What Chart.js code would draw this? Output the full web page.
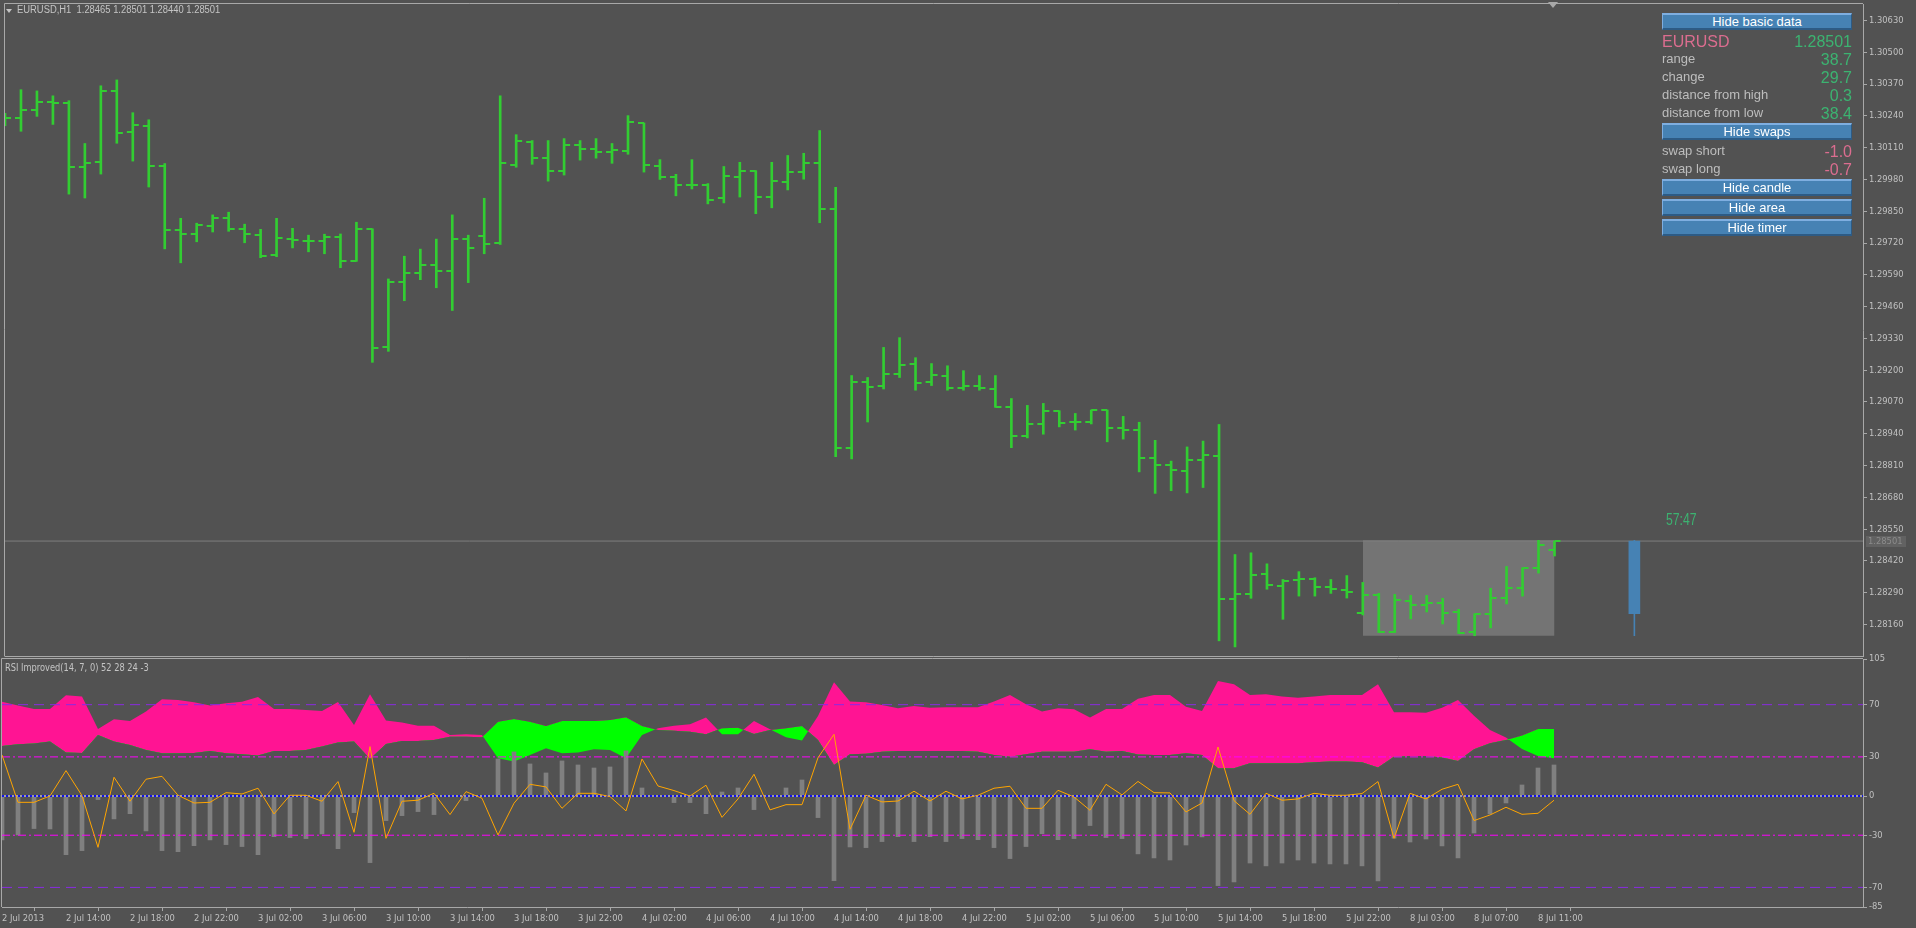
<!DOCTYPE html>
<html>
<head>
<meta charset="utf-8">
<script src="https://cdn.jsdelivr.net/npm/chart.js@4.4.0/dist/chart.umd.min.js"></script>
<style>
html, body { margin:0; padding:0; background:#525252; width:1916px; height:928px; overflow:hidden; }
canvas { position:absolute; left:0; }
#main { top:-12px; }
#rsi { top:640px; }
.txt { position:absolute; font-family:'Liberation Sans', Arial, sans-serif; white-space:nowrap; }
#hdr { left:17px; top:4px; font-size:10px; color:#c4c4c4; transform:scaleX(0.94); transform-origin:0 0; }
#hdrTri { position:absolute; left:6px; top:9px; width:0; height:0; border-left:3.5px solid transparent; border-right:3.5px solid transparent; border-top:4px solid #c4c4c4; }
#shiftTri { position:absolute; left:1548px; top:2px; width:0; height:0; border-left:5px solid transparent; border-right:5px solid transparent; border-top:6px solid #a8a8a8; }
#rsiLbl { left:5px; top:662px; font-family:'DejaVu Sans Condensed', sans-serif; font-size:10px; color:#c4c4c4; transform:scaleX(0.92); transform-origin:0 0; }
.btn { position:absolute; left:1662px; width:190px; height:17px; box-sizing:border-box; background:#4682b4;
  border-top:2px solid #7eaee0; border-left:1px solid #7eaee0; border-bottom:2px solid #2d5b85; border-right:1px solid #2d5b85;
  color:#fff; font:13px 'Liberation Sans', Arial, sans-serif; text-align:center; line-height:13px; }
.row { position:absolute; left:1662px; width:190px; height:18px; line-height:18px; }
.row .l { position:absolute; left:0; font:13px 'Liberation Sans', Arial, sans-serif; color:#bdbdbd; }
.row .r { position:absolute; right:0; font:16px 'Liberation Sans', Arial, sans-serif; }
#timer { left:1666px; top:510px; font-family:'Liberation Sans', sans-serif; font-size:17px; color:#3cb371; transform:scaleX(0.72); transform-origin:0 0; }
</style>
</head>
<body>
<canvas id="main" width="1916" height="680" style="width:1916px;height:680px"></canvas>
<canvas id="rsi" width="1916" height="288" style="width:1916px;height:288px"></canvas>
<div id="hdrTri"></div>
<div id="hdr" class="txt"></div>
<div id="shiftTri"></div>
<div id="rsiLbl" class="txt">RSI Improved(14, 7, 0) 52 28 24 -3</div>
<div id="timer" class="txt">57:47</div>
<div id="panel"></div>
<script>
// EURUSD H1, bar 0 = 2 Jul 10:00 ... bar 97 = 8 Jul 12:00
const opens = [
  1.30230, 1.30230, 1.30262, 1.30295, 1.30291, 1.30030, 1.30051, 1.30340, 1.30173, 1.30197,
  1.30034, 1.29774, 1.29757, 1.29790, 1.29823, 1.29778, 1.29753, 1.29672, 1.29736, 1.29730,
  1.29729, 1.29745, 1.29647, 1.29778, 1.29294, 1.29562, 1.29598, 1.29631, 1.29607, 1.29737,
  1.29749, 1.29721, 1.30038, 1.30133, 1.30067, 1.30014, 1.30120, 1.30103, 1.30091, 1.30095,
  1.30211, 1.30037, 1.29990, 1.29957, 1.29957, 1.29903, 1.29990, 1.30014, 1.29908, 1.29970,
  1.30010, 1.30047, 1.29858, 1.28881, 1.29151, 1.29134, 1.29184, 1.29224, 1.29151, 1.29176,
  1.29127, 1.29137, 1.29123, 1.29048, 1.28931, 1.28980, 1.29034, 1.28988, 1.28988, 1.29037,
  1.28964, 1.28957, 1.28841, 1.28813, 1.28788, 1.28834, 1.28850, 1.28263, 1.28283, 1.28366,
  1.28316, 1.28340, 1.28344, 1.28313, 1.28302, 1.28207, 1.28280, 1.28130, 1.28256, 1.28240,
  1.28248, 1.28211, 1.28130, 1.28203, 1.28268, 1.28309, 1.28390, 1.28465
];
const highs = [
  1.30250, 1.30347, 1.30342, 1.30322, 1.30302, 1.30127, 1.30363, 1.30387, 1.30253, 1.30224,
  1.30045, 1.29821, 1.29801, 1.29835, 1.29846, 1.29797, 1.29776, 1.29821, 1.29780, 1.29752,
  1.29756, 1.29757, 1.29805, 1.29778, 1.29573, 1.29666, 1.29695, 1.29736, 1.29835, 1.29752,
  1.29903, 1.30322, 1.30163, 1.30139, 1.30139, 1.30147, 1.30139, 1.30147, 1.30127, 1.30241,
  1.30211, 1.30061, 1.30001, 1.30061, 1.29963, 1.30033, 1.30050, 1.30016, 1.30050, 1.30078,
  1.30087, 1.30180, 1.29948, 1.29178, 1.29170, 1.29293, 1.29333, 1.29251, 1.29227, 1.29218,
  1.29198, 1.29178, 1.29178, 1.29084, 1.29056, 1.29064, 1.29034, 1.29023, 1.29037, 1.29037,
  1.29011, 1.28987, 1.28913, 1.28828, 1.28886, 1.28910, 1.28978, 1.28446, 1.28453, 1.28408,
  1.28344, 1.28376, 1.28351, 1.28344, 1.28360, 1.28332, 1.28287, 1.28283, 1.28279, 1.28279,
  1.28267, 1.28222, 1.28204, 1.28308, 1.28397, 1.28392, 1.28504, 1.28501
];
const lows = [
  1.30200, 1.30177, 1.30238, 1.30205, 1.29920, 1.29904, 1.30002, 1.30128, 1.30055, 1.29949,
  1.29696, 1.29639, 1.29725, 1.29765, 1.29768, 1.29721, 1.29660, 1.29664, 1.29700, 1.29684,
  1.29676, 1.29619, 1.29645, 1.29232, 1.29277, 1.29484, 1.29570, 1.29537, 1.29444, 1.29558,
  1.29676, 1.29714, 1.30030, 1.30042, 1.29973, 1.29998, 1.30059, 1.30067, 1.30046, 1.30083,
  1.30010, 1.29980, 1.29913, 1.29941, 1.29880, 1.29884, 1.29908, 1.29840, 1.29864, 1.29937,
  1.29981, 1.29803, 1.28846, 1.28837, 1.28988, 1.29123, 1.29170, 1.29118, 1.29137, 1.29118,
  1.29118, 1.29118, 1.29048, 1.28883, 1.28923, 1.28938, 1.28968, 1.28955, 1.28980, 1.28907,
  1.28918, 1.28784, 1.28696, 1.28707, 1.28698, 1.28720, 1.28093, 1.28068, 1.28267, 1.28304,
  1.28181, 1.28276, 1.28276, 1.28287, 1.28268, 1.28199, 1.28127, 1.28127, 1.28183, 1.28211,
  1.28162, 1.28123, 1.28114, 1.28146, 1.28244, 1.28276, 1.28370, 1.28440
];
const closes = [
  1.30230, 1.30262, 1.30295, 1.30291, 1.30030, 1.30046, 1.30340, 1.30170, 1.30201, 1.30034,
  1.29774, 1.29757, 1.29795, 1.29823, 1.29776, 1.29755, 1.29666, 1.29741, 1.29733, 1.29729,
  1.29745, 1.29647, 1.29778, 1.29289, 1.29562, 1.29598, 1.29631, 1.29607, 1.29737, 1.29700,
  1.29717, 1.30046, 1.30136, 1.30067, 1.30014, 1.30120, 1.30103, 1.30091, 1.30099, 1.30215,
  1.30038, 1.29990, 1.29957, 1.29957, 1.29896, 1.29994, 1.30014, 1.29908, 1.29974, 1.30010,
  1.30047, 1.29858, 1.28881, 1.29151, 1.29130, 1.29184, 1.29220, 1.29147, 1.29180, 1.29127,
  1.29137, 1.29127, 1.29048, 1.28931, 1.28980, 1.29034, 1.28984, 1.28988, 1.29037, 1.28964,
  1.28957, 1.28841, 1.28813, 1.28793, 1.28834, 1.28854, 1.28263, 1.28283, 1.28361, 1.28320,
  1.28337, 1.28344, 1.28313, 1.28304, 1.28293, 1.28280, 1.28130, 1.28260, 1.28240, 1.28248,
  1.28207, 1.28126, 1.28203, 1.28268, 1.28309, 1.28390, 1.28484, 1.28501
];

// RSI Improved: two band edges (pink when bandA > bandB, green otherwise), histogram, signal line
const bandA = [
  72.3, 69.3, 66.7, 66.7, 77.2, 76.2, 51.4, 58.8, 57.5, 64.7,
  74.1, 73.6, 71.8, 69.3, 71.1, 72.3, 75.9, 66.7, 66.7, 66.0,
  65.2, 72.1, 54.5, 78.0, 57.8, 56.3, 53.9, 53.9, 46.8, 47.3,
  46.8, 28.9, 26.4, 31.5, 36.6, 32.8, 33.3, 35.8, 35.3, 28.9,
  46.8, 51.9, 53.9, 55.0, 60.1, 47.3, 47.3, 57.5, 51.2, 45.0,
  42.5, 61.4, 87.2, 72.4, 71.8, 69.8, 67.2, 69.0, 67.7, 68.0,
  68.0, 68.0, 72.4, 77.5, 70.3, 64.7, 67.2, 66.5, 60.1, 66.7,
  66.7, 74.6, 77.5, 77.5, 68.5, 65.2, 88.2, 85.6, 77.5, 78.0,
  76.2, 75.4, 76.2, 77.5, 77.5, 77.5, 85.6, 64.2, 64.2, 63.9,
  67.7, 73.6, 61.6, 50.6, 44.8, 36.1, 30.7, 28.9
];
const bandB = [
  38.4, 39.7, 40.2, 41.7, 33.3, 33.0, 46.8, 41.7, 39.2, 35.3,
  32.8, 32.8, 33.0, 34.6, 32.8, 32.0, 31.0, 34.6, 34.6, 35.3,
  37.9, 41.0, 41.7, 28.4, 39.9, 42.2, 42.2, 43.0, 45.5, 45.5,
  45.0, 57.0, 59.1, 57.0, 53.7, 57.5, 57.5, 57.5, 58.3, 60.4,
  53.7, 50.6, 50.1, 49.2, 47.3, 51.9, 52.4, 47.6, 50.6, 51.9,
  53.7, 43.0, 23.8, 32.0, 32.5, 34.0, 34.5, 34.5, 34.5, 34.5,
  34.5, 34.0, 31.5, 30.2, 32.0, 34.0, 34.0, 34.0, 35.8, 34.0,
  34.5, 31.8, 31.5, 31.5, 32.8, 31.5, 21.3, 21.3, 25.1, 25.1,
  25.1, 25.1, 25.9, 26.4, 26.4, 25.9, 21.8, 30.2, 30.7, 30.7,
  29.5, 26.9, 35.8, 40.4, 43.0, 46.3, 51.4, 51.4
];
const hist = [
  -33.6, -29.8, -24.9, -25.2, -44.9, -41.8, -2.7, -17.5, -13.5, -26.7,
  -41.8, -42.6, -38.0, -33.6, -37.2, -38.7, -44.9, -31.1, -31.8, -32.6,
  -29.0, -40.3, -12.7, -51.0, -18.8, -15.0, -11.9, -14.2, -0.5, -3.5,
  0, 28.4, 33.8, 24.6, 17.7, 26.9, 23.8, 21.5, 22.3, 34.6,
  6.2, 0, -5.0, -5.0, -13.5, 3.1, 6.2, -10.4, 0, 6.2,
  12.3, -16.5, -64.8, -39.0, -39.5, -34.9, -31.1, -34.9, -31.1, -34.9,
  -32.6, -33.4, -39.5, -47.9, -38.7, -28.8, -33.4, -32.6, -22.6, -31.8,
  -32.6, -44.3, -47.4, -49.0, -37.5, -31.3, -68.6, -65.8, -51.3, -53.5,
  -51.3, -49.0, -51.3, -52.0, -52.0, -53.5, -65.0, -32.3, -35.2, -32.9,
  -38.2, -47.4, -28.3, -13.7, -5.3, 8.5, 21.5, 23.8
];
const signal = [
  31.5, -4.8, -4.8, 0.1, 19.5, 0.3, -39.3, 14.4, -4.0, 12.9,
  15.1, 0.6, -5.3, -4.8, 2.6, 1.6, 6.0, -13.7, 0.6, 0.6,
  -4.0, 11.1, -27.8, 37.9, -32.4, -4.0, -3.2, 2.1, -14.2, 3.4,
  -1.7, -29.8, -5.5, 9.0, 7.0, -9.4, 2.1, 2.1, -0.4, -11.4,
  28.4, 7.7, 4.2, 0.0, 8.3, -16.3, -2.2, 16.7, -10.6, -6.6,
  -6.6, 29.4, 47.3, -25.5, 0.6, -4.5, -3.8, 3.7, -3.8, 3.7,
  -2.2, 0.6, 6.0, 7.5, -9.4, -9.4, 4.4, -0.7, -10.9, 9.0,
  0.9, 11.2, 2.6, 2.4, -12.2, -5.3, 37.6, -3.5, -14.0, 2.1,
  -3.2, -2.2, 2.1, 0.6, 0.6, 1.9, 11.1, -32.4, 2.1, -2.2,
  5.2, 9.0, -18.8, -14.5, -8.6, -14.0, -13.2, -3.2
];

const priceTicks = [1.30630, 1.30500, 1.30370, 1.30240, 1.30110, 1.29980, 1.29850, 1.29720, 1.29590, 1.29460,
  1.29330, 1.29200, 1.29070, 1.28940, 1.28810, 1.28680, 1.28550, 1.28420, 1.28290, 1.28160];
const rsiTicks = [105, 70, 30, 0, -30, -70, -85];
const tickIdx = [0, 4, 8, 12, 16, 20, 24, 28, 32, 36, 40, 44, 48, 52, 56, 60, 64, 68, 72, 76, 80, 84, 88, 92, 96];
const tickLabels = ['2 Jul 2013', '2 Jul 14:00', '2 Jul 18:00', '2 Jul 22:00', '3 Jul 02:00', '3 Jul 06:00', '3 Jul 10:00',
  '3 Jul 14:00', '3 Jul 18:00', '3 Jul 22:00', '4 Jul 02:00', '4 Jul 06:00', '4 Jul 10:00', '4 Jul 14:00', '4 Jul 18:00',
  '4 Jul 22:00', '5 Jul 02:00', '5 Jul 06:00', '5 Jul 10:00', '5 Jul 14:00', '5 Jul 18:00', '5 Jul 22:00',
  '8 Jul 03:00', '8 Jul 07:00', '8 Jul 11:00'];

// daily candle (open, high, low, close), drawn ahead of the last bar, and the day's range box
const dayOHLC = [1.28204, 1.28504, 1.28114, 1.28501];
const candleAt = 102;
const dayRange = [85, 97];

const panelLabels = ['range', 'change', 'distance from high', 'distance from low'];
const panelValues = ['38.7', '29.7', '0.3', '38.4'];
const swapLabels = ['swap short', 'swap long'];
const swapValues = ['-1.0', '-0.7'];

const xMin = 0, xMax = 116.3125;
const yMin = 1.28031, yMax = 1.306975;
const BAR = '#32cd32';
const AXIS = '#a8a8a8';
const NARROW = "'DejaVu Sans Condensed', 'Liberation Sans Narrow', sans-serif";

Chart.defaults.font.family = NARROW;
Chart.defaults.font.size = 9.3;
Chart.defaults.color = '#c0c0c0';

function pts(arr) {
  return arr.map((v, i) => ({x: i, y: v}));
}

function flat(v) {
  return [{x: xMin, y: v}, {x: xMax, y: v}];
}

// open / close ticks as point images
function tickImg(side) {
  const c = document.createElement('canvas');
  c.width = 14; c.height = 2;
  const g = c.getContext('2d');
  g.fillStyle = BAR;
  g.fillRect(side == 'left' ? 1 : 7, 0, 6, 2);
  return c;
}

const frame = {
  id: 'frame',
  afterDraw(chart, args, opts) {
    const a = chart.chartArea, ctx = chart.ctx;
    ctx.save();
    ctx.strokeStyle = AXIS;
    ctx.lineWidth = 1;
    ctx.beginPath();
    ctx.moveTo(a.left - 0.5, a.bottom);
    ctx.lineTo(a.left - 0.5, a.top - 0.5);
    ctx.lineTo(a.right, a.top - 0.5);
    if (opts.bottom) {
      ctx.moveTo(a.left - 0.5, a.bottom + 0.5);
      ctx.lineTo(a.right, a.bottom + 0.5);
    }
    ctx.stroke();
    ctx.restore();
  }
};

const priceTag = {
  id: 'priceTag',
  afterDraw(chart) {
    const last = closes[closes.length - 1];
    const y = Math.round(chart.scales.y.getPixelForValue(last));
    const ctx = chart.ctx;
    ctx.save();
    ctx.fillStyle = '#626262';
    ctx.fillRect(chart.chartArea.right + 3, y - 5, 40, 11);
    ctx.fillStyle = '#8c8c8c';
    ctx.font = '9.3px ' + NARROW;
    ctx.textBaseline = 'middle';
    ctx.fillText(last.toFixed(5), chart.chartArea.right + 5, y + 0.5);
    ctx.restore();
  }
};

const last = closes[closes.length - 1];

new Chart(document.getElementById('main'), {
  type: 'line',
  data: {
    datasets: [
      { label: 'day range', data: [{x: dayRange[0], y: dayOHLC[1]}, {x: dayRange[1], y: dayOHLC[1]}],
        fill: {value: dayOHLC[2]}, backgroundColor: '#747474', borderColor: 'rgba(0,0,0,0)', pointRadius: 0, order: 20 },
      { label: 'price', data: flat(last), borderColor: '#7e7e7e', borderWidth: 1, pointRadius: 0, fill: false, order: 19 },
      { type: 'bar', label: 'hl', data: highs.map((h, i) => ({x: i, y: [lows[i], h]})),
        backgroundColor: BAR, barThickness: 2, grouped: false, order: 3 },
      { type: 'scatter', label: 'open', data: pts(opens), pointStyle: tickImg('left'), pointRadius: 3, order: 2 },
      { type: 'scatter', label: 'close', data: pts(closes), pointStyle: tickImg('right'), pointRadius: 3, order: 1 },
      { type: 'bar', label: 'wick', data: [{x: candleAt, y: [dayOHLC[2], dayOHLC[1]]}],
        backgroundColor: '#4682b4', barThickness: 1, grouped: false, order: 5 },
      { type: 'bar', label: 'body', data: [{x: candleAt, y: [dayOHLC[0], dayOHLC[3]]}],
        backgroundColor: '#4682b4', barThickness: 11, grouped: false, order: 4 }
    ]
  },
  options: {
    responsive: false, animation: false, devicePixelRatio: 1, events: [],
    layout: {padding: {left: 2, right: 0, top: 16, bottom: 12}},
    plugins: {legend: {display: false}, tooltip: {enabled: false}, frame: {bottom: true}},
    scales: {
      x: {type: 'linear', min: xMin, max: xMax, display: false, offset: false},
      y: {
        position: 'right', min: yMin, max: yMax,
        afterBuildTicks: s => { s.ticks = priceTicks.map(v => ({value: v})); },
        afterFit: s => { s.width = 53; },
        grid: {drawOnChartArea: false, tickLength: 4, color: AXIS},
        border: {color: AXIS},
        ticks: {padding: 2, autoSkip: false, callback: v => v.toFixed(5)}
      }
    }
  },
  plugins: [frame, priceTag]
});

new Chart(document.getElementById('rsi'), {
  type: 'line',
  data: {
    datasets: [
      { label: 'bandA', data: pts(bandA), borderColor: 'rgba(0,0,0,0)', pointRadius: 0,
        fill: {target: '+1', above: '#ff1493', below: '#00ff00'}, order: 10 },
      { label: 'bandB', data: pts(bandB), borderColor: 'rgba(0,0,0,0)', pointRadius: 0, fill: false, order: 10 },
      { type: 'bar', label: 'hist', data: pts(hist), backgroundColor: '#808080', barThickness: 4, grouped: false, order: 8 },
      { label: 'l70', data: flat(70), borderColor: '#8a2be2', borderWidth: 1, borderDash: [10, 6], pointRadius: 0, order: 5 },
      { label: 'l-70', data: flat(-70), borderColor: '#8a2be2', borderWidth: 1, borderDash: [10, 6], pointRadius: 0, order: 5 },
      { label: 'l30', data: flat(30), borderColor: '#ff00ff', borderWidth: 1, borderDash: [8, 3, 2, 3], pointRadius: 0, order: 5 },
      { label: 'l-30', data: flat(-30), borderColor: '#ff00ff', borderWidth: 1, borderDash: [8, 3, 2, 3], pointRadius: 0, order: 5 },
      { label: 'l0g', data: flat(0), borderColor: '#a0a0a0', borderWidth: 2, pointRadius: 0, order: 4 },
      { label: 'l0', data: flat(0), borderColor: '#1010e8', borderWidth: 2, borderDash: [2, 2], pointRadius: 0, order: 3 },
      { label: 'signal', data: pts(signal), borderColor: '#ffa500', borderWidth: 1, pointRadius: 0, tension: 0, order: 1 }
    ]
  },
  options: {
    responsive: false, animation: false, devicePixelRatio: 1, events: [],
    layout: {padding: {left: 2, right: 0, top: 19, bottom: 0}},
    plugins: {legend: {display: false}, tooltip: {enabled: false}, frame: {bottom: false}},
    scales: {
      x: {
        type: 'linear', min: xMin, max: xMax, offset: false,
        afterBuildTicks: s => { s.ticks = tickIdx.map(v => ({value: v})); },
        afterFit: s => { s.height = 21; },
        grid: {drawOnChartArea: false, tickLength: 4, color: AXIS},
        border: {color: AXIS},
        ticks: {align: 'start', padding: 2, maxRotation: 0, autoSkip: false,
          callback: v => tickLabels[tickIdx.indexOf(v)]}
      },
      y: {
        position: 'right', min: -85, max: 105,
        afterBuildTicks: s => { s.ticks = rsiTicks.map(v => ({value: v})); },
        afterFit: s => { s.width = 53; },
        grid: {drawOnChartArea: false, tickLength: 4, color: AXIS},
        border: {color: AXIS},
        ticks: {padding: 2, autoSkip: false}
      }
    }
  },
  plugins: [frame]
});

// header and info panel
document.getElementById('hdr').textContent = 'EURUSD,H1\u00a0\u00a0' +
  [opens[97], highs[97], lows[97], closes[97]].map(v => v.toFixed(5)).join(' ');

const panel = document.getElementById('panel');
function addBtn(text, top) {
  const d = document.createElement('div');
  d.className = 'btn';
  d.style.top = top + 'px';
  d.textContent = text;
  panel.appendChild(d);
}
function addRow(label, value, top, lColor, lSize, vColor) {
  const d = document.createElement('div');
  d.className = 'row';
  d.style.top = top + 'px';
  const l = document.createElement('span');
  l.className = 'l';
  l.textContent = label;
  if (lColor) { l.style.color = lColor; l.style.fontSize = lSize + 'px'; }
  const r = document.createElement('span');
  r.className = 'r';
  r.textContent = value;
  r.style.color = vColor;
  d.appendChild(l); d.appendChild(r);
  panel.appendChild(d);
}
addBtn('Hide basic data', 13);
addRow('EURUSD', closes[97].toFixed(5), 33, '#db6d8f', 16, '#3cb371');
panelLabels.forEach((t, i) => addRow(t, panelValues[i], 51 + i * 18, null, 0, '#3cb371'));
addBtn('Hide swaps', 123);
swapLabels.forEach((t, i) => addRow(t, swapValues[i], 143 + i * 18, null, 0, '#db6d8f'));
addBtn('Hide candle', 179);
addBtn('Hide area', 199);
addBtn('Hide timer', 219);
</script>
</body>
</html>
